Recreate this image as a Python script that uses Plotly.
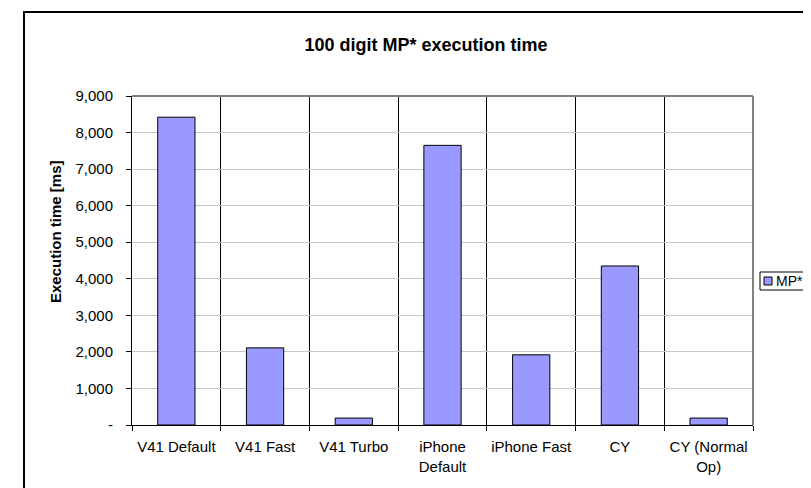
import plotly.graph_objects as go

categories = ["V41 Default", "V41 Fast", "V41 Turbo", "iPhone<br>Default",
              "iPhone Fast", "CY", "CY (Normal<br>Op)"]
mp_values = [8420, 2110, 190, 7650, 1920, 4350, 190]
y_tick_vals = [0, 1000, 2000, 3000, 4000, 5000, 6000, 7000, 8000, 9000]
y_tick_text = ["-", "1,000", "2,000", "3,000", "4,000", "5,000",
               "6,000", "7,000", "8,000", "9,000"]
series_name = "MP*"
chart_title = "100 digit MP* execution time"
y_title = "Execution time [ms]"

W, H = 811, 488
L, R, T, B = 124, 745, 88, 417
pw, ph = R - L, B - T

def px_x(x):
    return (x - L) / pw

def px_y(y):
    return (B - y) / ph

FONT = "Liberation Sans, Arial, sans-serif"
BAR_FILL = "#9999FF"

fig = go.Figure()
fig.add_trace(go.Bar(
    x=categories, y=mp_values, name=series_name,
    marker=dict(color=BAR_FILL, line=dict(color="#000000", width=1)),
    width=0.42, showlegend=False,
))

fig.update_layout(
    width=W, height=H,
    margin=dict(l=L, r=W - R, t=T, b=H - B, autoexpand=False),
    paper_bgcolor="white", plot_bgcolor="white",
    font=dict(family=FONT, size=15, color="#000000"),
    title=dict(text="<b>" + chart_title + "</b>", x=418 / W, xanchor="center",
               y=1 - 37 / H, yanchor="middle", xref="container", yref="container",
               font=dict(size=18, family=FONT, color="#000000")),
    xaxis=dict(type="category", tickson="boundaries", showgrid=True,
               gridcolor="#000000", gridwidth=1,
               showline=True, linecolor="#000000", linewidth=1,
               ticks="outside", ticklen=5, tickcolor="#000000",
               tickangle=0, ticklabelstandoff=8, tickfont=dict(size=15),
               range=[-0.5, 6.5], fixedrange=True),
    yaxis=dict(range=[0, 9000], tickvals=y_tick_vals, ticktext=y_tick_text,
               showgrid=True, gridcolor="#C8C8C8", gridwidth=1,
               showline=True, linecolor="#000000", linewidth=1,
               ticks="outside", ticklen=5, tickcolor="#000000",
               ticklabelstandoff=10, tickfont=dict(size=15),
               zeroline=False, fixedrange=True),
    showlegend=False,
)

# Chart area frame (extends past the picture on right/bottom)
fig.add_shape(type="rect", xref="paper", yref="paper",
              x0=px_x(16), x1=px_x(W + 20), y0=px_y(H + 20), y1=px_y(4),
              line=dict(color="#000000", width=2), layer="below")
# Plot area border top/right (gray)
fig.add_shape(type="line", xref="paper", yref="paper", x0=0, x1=1, y0=1, y1=1,
              line=dict(color="#808080", width=2), layer="above")
fig.add_shape(type="line", xref="paper", yref="paper", x0=1, x1=1, y0=0, y1=1,
              line=dict(color="#808080", width=2), layer="above")

# Y-axis title
fig.add_annotation(text="<b>" + y_title + "</b>", xref="paper", yref="paper",
                   x=px_x(48), y=px_y(224), textangle=-90, showarrow=False,
                   xanchor="center", yanchor="middle",
                   font=dict(size=15, family=FONT, color="#000000"))

# Legend box
fig.add_shape(type="rect", xref="paper", yref="paper",
              x0=px_x(752), x1=px_x(806), y0=px_y(282), y1=px_y(264),
              line=dict(color="#000000", width=1), fillcolor="white", layer="above")
fig.add_shape(type="rect", xref="paper", yref="paper",
              x0=px_x(756), x1=px_x(764), y0=px_y(277), y1=px_y(269),
              line=dict(color="#000000", width=1), fillcolor=BAR_FILL, layer="above")
fig.add_annotation(text=series_name, xref="paper", yref="paper",
                   x=px_x(766), y=px_y(273), showarrow=False,
                   xanchor="left", yanchor="middle",
                   font=dict(size=14, family=FONT, color="#000000"))

fig.write_html("out.html")
